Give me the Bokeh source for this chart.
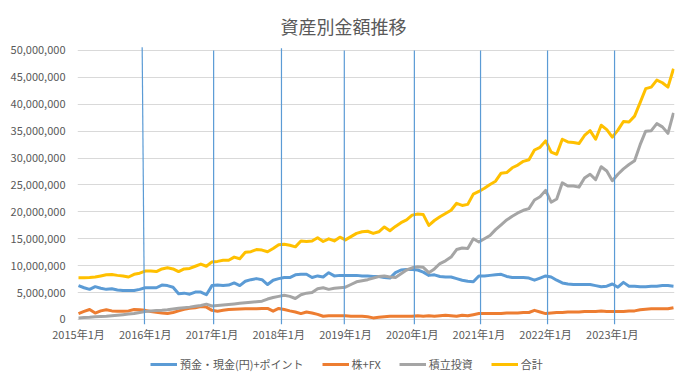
from bokeh.plotting import figure
from bokeh.models import FixedTicker, Legend, LegendItem, Range1d
from bokeh.layouts import column
from bokeh.embed import file_html
from bokeh.resources import INLINE

# ---- data (values in millions of yen, monthly Jan 2015 - Dec 2023) ----
months = list(range(108))

deposit = [6.3, 5.9, 5.6, 6.1, 5.8, 5.6, 5.7, 5.5, 5.4, 5.4, 5.4, 5.6,
           5.9, 5.9, 5.9, 6.4, 6.3, 6.0, 4.8, 4.9, 4.7, 5.1, 5.1, 4.6,
           6.3, 6.4, 6.3, 6.4, 6.8, 6.3, 7.1, 7.4, 7.6, 7.4, 6.5, 7.3,
           7.6, 7.8, 7.8, 8.3, 8.4, 8.4, 7.8, 8.1, 7.9, 8.7, 8.1, 8.2,
           8.2, 8.2, 8.2, 8.1, 8.1, 8.0, 8.0, 7.8, 7.7, 8.7, 9.2, 9.3,
           9.3, 9.2, 8.8, 8.2, 8.3, 8.0, 7.9, 7.9, 7.6, 7.3, 7.1, 7.0,
           8.1, 8.1, 8.2, 8.3, 8.4, 8.0, 7.8, 7.8, 7.8, 7.7, 7.3, 7.7,
           8.1, 7.9, 7.3, 6.8, 6.6, 6.5, 6.5, 6.5, 6.5, 6.3, 6.1, 6.2,
           6.6, 6.0, 6.9, 6.2, 6.2, 6.1, 6.1, 6.2, 6.2, 6.3, 6.3, 6.2]

stocks = [1.1, 1.5, 1.85, 1.2, 1.6, 1.8, 1.6, 1.55, 1.55, 1.6, 1.85, 1.8,
          1.7, 1.5, 1.35, 1.2, 1.1, 1.3, 1.6, 1.9, 2.1, 2.2, 2.4, 2.3,
          1.7, 1.55, 1.7, 1.85, 1.9, 1.95, 2.0, 2.0, 2.0, 2.05, 2.05, 1.55,
          2.05, 1.85, 1.6, 1.4, 1.1, 1.4, 1.2, 0.95, 0.6, 0.7, 0.7, 0.7,
          0.7, 0.6, 0.6, 0.6, 0.5, 0.3, 0.4, 0.5, 0.6, 0.6, 0.6, 0.6,
          0.6, 0.7, 0.6, 0.7, 0.6, 0.7, 0.8, 0.7, 0.6, 0.8, 0.7, 0.9,
          1.1, 1.1, 1.1, 1.1, 1.1, 1.2, 1.2, 1.2, 1.3, 1.3, 1.7, 1.4,
          1.1, 1.2, 1.3, 1.3, 1.4, 1.4, 1.4, 1.5, 1.5, 1.5, 1.6, 1.5,
          1.5, 1.5, 1.5, 1.6, 1.6, 1.8, 1.9, 2.0, 2.0, 2.0, 2.0, 2.2]

invest = [0.3, 0.35, 0.4, 0.5, 0.55, 0.6, 0.7, 0.8, 0.9, 1.0, 1.1, 1.3,
          1.5, 1.6, 1.65, 1.7, 1.8, 1.95, 2.1, 2.2, 2.3, 2.45, 2.6, 2.85,
          2.5, 2.6, 2.7, 2.8, 2.9, 3.0, 3.1, 3.2, 3.3, 3.4, 3.8, 4.1,
          4.3, 4.5, 4.3, 3.9, 4.6, 4.9, 5.0, 5.7, 5.9, 5.6, 5.8, 5.9,
          6.0, 6.5, 7.0, 7.2, 7.4, 7.7, 8.0, 8.1, 7.9, 7.8, 8.5, 9.2,
          9.6, 9.8, 9.7, 8.7, 9.4, 10.4, 10.9, 11.6, 13.0, 13.3, 13.2, 15.0,
          14.4, 15.0, 15.6, 16.7, 17.6, 18.5, 19.2, 19.8, 20.3, 20.6, 22.2, 22.8,
          24.0, 21.8, 22.4, 25.4, 24.8, 24.8, 24.6, 26.3, 27.0, 26.0, 28.4, 27.6,
          25.8, 27.0, 28.0, 28.8, 29.5, 32.5, 35.0, 35.1, 36.4, 35.8, 34.6, 38.4]

total = [7.75, 7.75, 7.8, 7.9, 8.1, 8.3, 8.35, 8.2, 8.1, 7.9, 8.4, 8.6,
         9.0, 9.0, 8.9, 9.4, 9.6, 9.4, 8.9, 9.4, 9.5, 9.9, 10.3, 9.9,
         10.7, 10.8, 11.0, 11.0, 11.6, 11.3, 12.5, 12.6, 13.0, 12.9, 12.6, 13.2,
         13.9, 14.0, 13.8, 13.5, 14.6, 14.5, 14.6, 15.2, 14.5, 15.0, 14.6, 15.3,
         14.8, 15.4, 16.0, 16.3, 16.4, 16.0, 16.3, 17.2, 16.5, 17.3, 18.0, 18.5,
         19.4, 19.6, 19.5, 17.5, 18.4, 19.1, 19.7, 20.3, 21.6, 21.2, 21.4, 23.3,
         23.8, 24.4, 25.1, 25.7, 27.2, 27.3, 28.2, 28.7, 29.4, 29.7, 31.5, 32.0,
         33.2, 31.1, 30.7, 33.5, 33.0, 32.9, 32.7, 34.2, 35.1, 33.5, 36.1, 35.3,
         33.9, 35.2, 36.8, 36.7, 37.8, 40.3, 42.9, 43.2, 44.5, 44.0, 43.2, 46.6]

series = [deposit, stocks, invest, total]
series_names = ["預金・現金(円)+ポイント", "株+FX", "積立投資", "合計"]
series_colors = ["#5B9BD5", "#ED7D31", "#A5A5A5", "#FFC000"]

x_ticks = [0, 12, 24, 36, 48, 60, 72, 84, 96]
x_tick_labels = ["2015年1月", "2016年1月", "2017年1月", "2018年1月", "2019年1月",
                 "2020年1月", "2021年1月", "2022年1月", "2023年1月"]
y_ticks = [0, 5, 10, 15, 20, 25, 30, 35, 40, 45, 50]
y_tick_labels = ["0", "5,000,000", "10,000,000", "15,000,000", "20,000,000",
                 "25,000,000", "30,000,000", "35,000,000", "40,000,000",
                 "45,000,000", "50,000,000"]

# hand-drawn vertical marker lines (month position at top / bottom, top value)
vline_top_x = [11.45, 24.3, 36.5, 47.8, 60.4, 72.3, 84.35, 96.4]
vline_bot_x = [11.87, 24.3, 36.5, 47.8, 60.4, 72.3, 84.35, 96.4]
vline_top_y = [50.6, 50.0, 50.4, 50.0, 50.0, 50.0, 50.0, 50.0]

FONT = "Noto Sans CJK JP"
TXT = "#595959"

y_lo, y_hi = -0.93, 50.74

p = figure(width=680, height=345, output_backend="svg", toolbar_location=None,
           x_range=Range1d(-0.18, 107.18), y_range=Range1d(y_lo, y_hi),
           min_border_left=77, min_border_right=6, min_border_top=46,
           min_border_bottom=21)
p.background_fill_color = "white"
p.border_fill_color = "white"
p.outline_line_color = None

p.title.text = "資産別金額推移"
p.title.align = "left"
p.title.offset = 203
p.title.standoff = 16
p.title.text_font = FONT
p.title.text_font_size = "18px"
p.title.text_font_style = "normal"
p.title.text_color = TXT

p.xgrid.visible = False
p.ygrid.ticker = FixedTicker(ticks=y_ticks)
p.ygrid.grid_line_color = "#D9D9D9"
p.ygrid.grid_line_width = 1

p.yaxis.ticker = FixedTicker(ticks=y_ticks)
p.yaxis.major_label_overrides = {t: l for t, l in zip(y_ticks, y_tick_labels)}
p.yaxis.axis_line_color = None
p.yaxis.major_tick_line_color = None
p.yaxis.minor_tick_line_color = None
p.yaxis.major_tick_out = 0
p.yaxis.major_tick_in = 0
p.yaxis.major_label_standoff = 12
p.yaxis.major_label_text_font = FONT
p.yaxis.major_label_text_font_size = "11px"
p.yaxis.major_label_text_color = TXT

p.xaxis.ticker = FixedTicker(ticks=x_ticks)
p.xaxis.major_label_overrides = {t: l for t, l in zip(x_ticks, x_tick_labels)}
p.xaxis.axis_line_color = None
p.xaxis.major_tick_line_color = None
p.xaxis.minor_tick_line_color = None
p.xaxis.major_tick_out = 0
p.xaxis.major_tick_in = 0
p.xaxis.major_label_standoff = 1
p.xaxis.major_label_text_font = FONT
p.xaxis.major_label_text_font_size = "11px"
p.xaxis.major_label_text_color = TXT

for data, color in zip(series, series_colors):
    p.line(months, data, line_color=color, line_width=3, line_join="round")

p.segment(x0=vline_top_x, y0=vline_top_y, x1=vline_bot_x,
          y1=[y_lo] * len(vline_top_x), line_color="#5B9BD5", line_width=1.2)

# ---- legend strip below the chart (series drawn out of view, legend only) ----
lg = figure(width=680, height=30, output_backend="svg", toolbar_location=None,
            x_range=Range1d(-0.18, 107.18), y_range=Range1d(-20, -19),
            x_axis_type=None, y_axis_type=None,
            min_border_left=77, min_border_right=6, min_border_top=0,
            min_border_bottom=0)
lg.outline_line_color = None
lg.xgrid.visible = False
lg.ygrid.visible = False
lg.background_fill_color = "white"
lg.border_fill_color = "white"

leg_renderers = [lg.line(months, data, line_color=c, line_width=3)
                 for data, c in zip(series, series_colors)]
items = [LegendItem(label=n, renderers=[r]) for n, r in zip(series_names, leg_renderers)]
legend = Legend(items=items, orientation="horizontal", location=(73, 3),
                label_text_font=FONT, label_text_font_size="11px", label_text_color=TXT,
                glyph_width=27, glyph_height=14, label_standoff=3, spacing=18,
                padding=0, margin=0, border_line_color=None, background_fill_alpha=0)
lg.add_layout(legend, "center")

layout = column(p, lg, spacing=0)
open("out.html", "w").write(file_html(layout, INLINE))
